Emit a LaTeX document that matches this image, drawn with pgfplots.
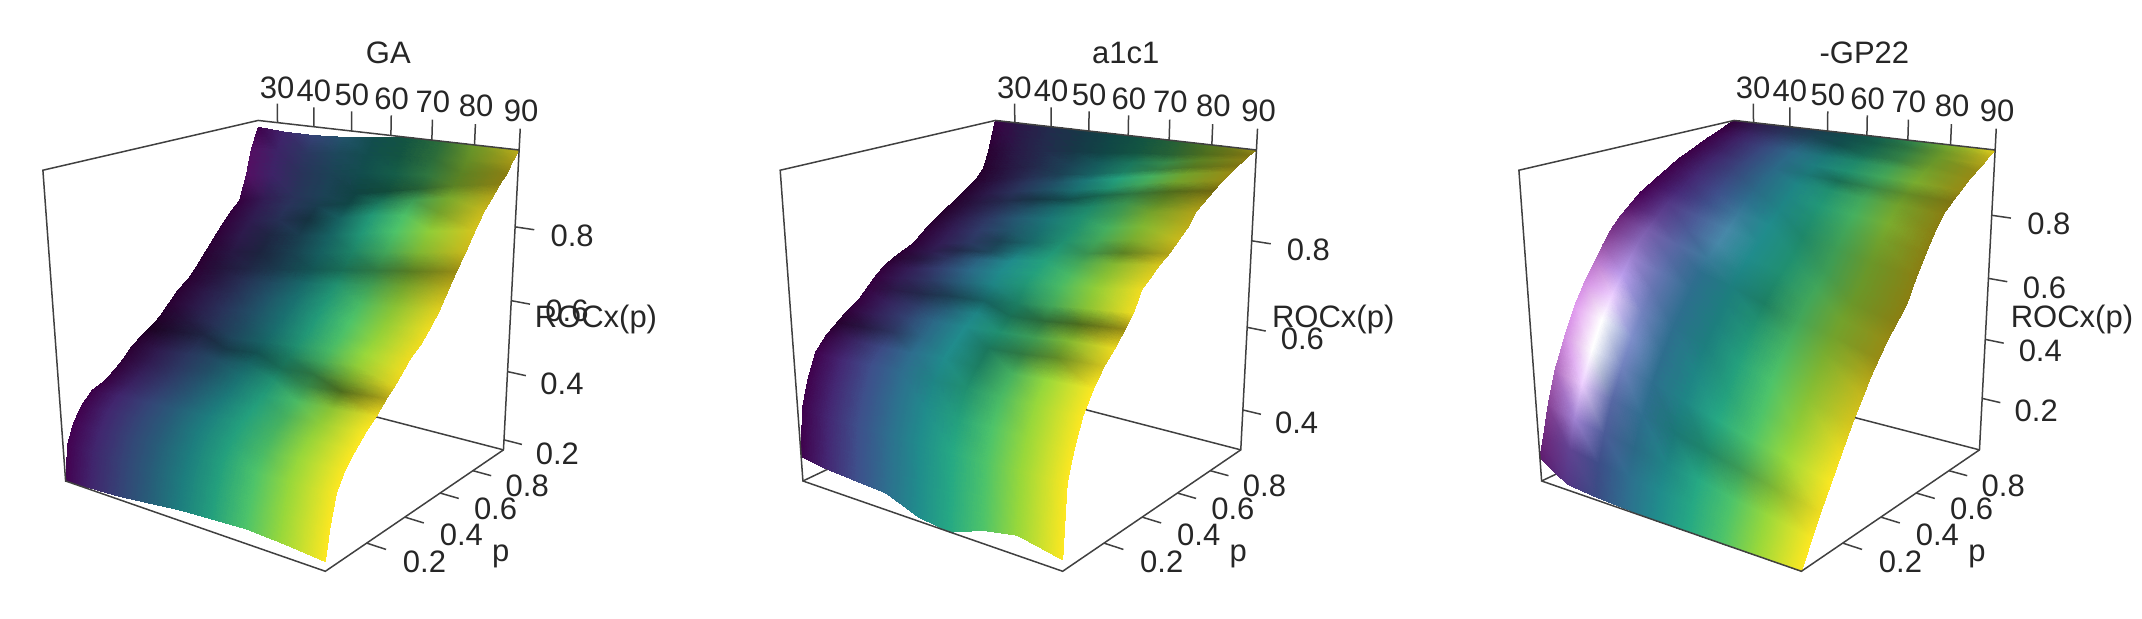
\documentclass[border=0pt]{standalone}
\usepackage{fontspec}
\setmainfont{Liberation Sans}
\usepackage{pgfplots}
\usepackage{pgfplotstable}
\pgfplotsset{compat=1.18}
\pgfplotstableread{
age p z s
24.5 0 .17 .95
32 0 .175 .9
40 0 .18 .85
48 0 .19 .85
56 0 .2 .9
64 0 .205 .95
72 0 .21 1
80 0 .205 1
90 0 .195 1
24.5 .02 .27 .95
32 .02 .27 .9
40 .02 .27 .85
48 .02 .27 .85
56 .02 .27 .9
64 .02 .27 .95
72 .02 .27 1
80 .02 .27 1
90 .02 .27 1
24.5 .05 .32 .95
32 .05 .32 .92
40 .05 .33 .85
48 .05 .33 .85
56 .05 .33 .9
64 .05 .34 .95
72 .05 .34 1
80 .05 .345 1
90 .05 .35 1
24.5 .09 .36 .9
32 .09 .365 .92
40 .09 .37 .85
48 .09 .37 .85
56 .09 .38 .9
64 .09 .38 .95
72 .09 .385 .95
80 .09 .39 1
90 .09 .395 1
24.5 .14 .39 .85
32 .14 .395 .9
40 .14 .4 .85
48 .14 .405 .85
56 .14 .41 .9
64 .14 .415 .95
72 .14 .42 .92
80 .14 .425 .98
90 .14 .43 1
24.5 .19 .4 .8
32 .19 .41 .82
40 .19 .415 .8
48 .19 .42 .82
56 .19 .43 .88
64 .19 .435 .95
72 .19 .445 .9
80 .19 .45 .95
90 .19 .46 1
24.5 .24 .42 .72
32 .24 .43 .75
40 .24 .435 .75
48 .24 .445 .78
56 .24 .45 .85
64 .24 .46 .92
72 .24 .47 .95
80 .24 .475 .9
90 .24 .485 .95
24.5 .29 .445 .65
32 .29 .45 .68
40 .29 .46 .7
48 .29 .47 .72
56 .29 .48 .8
64 .29 .49 .85
72 .29 .495 .7
80 .29 .505 .5
90 .29 .515 .7
24.5 .33 .47 .6
32 .33 .475 .65
40 .33 .485 .68
48 .33 .49 .7
56 .33 .5 .72
64 .33 .51 .65
72 .33 .515 .6
80 .33 .525 .75
90 .33 .535 .9
24.5 .37 .485 .55
32 .37 .49 .55
40 .37 .5 .6
48 .37 .51 .52
56 .37 .52 .58
64 .37 .53 .72
72 .37 .54 .85
80 .37 .55 .95
90 .37 .56 .95
24.5 .41 .5 .4
32 .41 .51 .42
40 .41 .52 .48
48 .41 .53 .65
56 .41 .54 .72
64 .41 .55 .85
72 .41 .56 .95
80 .41 .57 1
90 .41 .585 .95
24.5 .46 .52 .5
32 .46 .53 .5
40 .46 .54 .62
48 .46 .55 .68
56 .46 .56 .78
64 .46 .57 .9
72 .46 .58 .98
80 .46 .59 .98
90 .46 .605 .95
24.5 .51 .55 .6
32 .51 .56 .6
40 .51 .57 .65
48 .51 .58 .72
56 .51 .59 .8
64 .51 .6 .92
72 .51 .61 1
80 .51 .62 .95
90 .51 .635 .95
24.5 .56 .58 .6
32 .56 .59 .6
40 .56 .6 .62
48 .56 .61 .72
56 .56 .62 .8
64 .56 .635 .9
72 .56 .645 .95
80 .56 .655 .9
90 .56 .67 .9
24.5 .61 .6 .6
32 .61 .61 .55
40 .61 .63 .6
48 .61 .64 .68
56 .61 .655 .75
64 .61 .67 .85
72 .61 .685 .8
80 .61 .7 .75
90 .61 .715 .75
24.5 .65 .625 .6
32 .65 .64 .5
40 .65 .655 .5
48 .65 .67 .55
56 .65 .685 .6
64 .65 .7 .65
72 .65 .715 .62
80 .65 .73 .58
90 .65 .75 .6
24.5 .7 .66 .6
32 .7 .675 .55
40 .7 .69 .45
48 .7 .705 .55
56 .7 .72 .68
64 .7 .74 .78
72 .7 .755 .85
80 .7 .77 .85
90 .7 .79 .8
24.5 .75 .695 .65
32 .75 .71 .62
40 .75 .73 .48
48 .75 .745 .55
56 .75 .76 .7
64 .75 .78 .9
72 .75 .8 1
80 .75 .815 .95
90 .75 .835 .85
24.5 .8 .73 .7
32 .8 .745 .65
40 .8 .765 .6
48 .8 .78 .45
56 .8 .8 .68
64 .8 .82 .9
72 .8 .835 .98
80 .8 .855 .75
90 .8 .875 .8
24.5 .85 .76 .72
32 .85 .775 .68
40 .85 .795 .65
48 .85 .81 .55
56 .85 .83 .5
64 .85 .85 .68
72 .85 .865 .8
80 .85 .885 .78
90 .85 .905 .7
24.5 .89 .78 .75
32 .89 .8 .7
40 .89 .815 .65
48 .89 .835 .6
56 .89 .85 .48
64 .89 .87 .45
72 .89 .89 .5
80 .89 .91 .6
90 .89 .93 .55
24.5 .93 .85 1.05
32 .93 .86 .85
40 .93 .875 .65
48 .93 .885 .6
56 .93 .9 .55
64 .93 .91 .55
72 .93 .92 .6
80 .93 .935 .6
90 .93 .95 .55
24.5 .96 .92 1.05
32 .96 .925 .85
40 .96 .93 .7
48 .96 .94 .65
56 .96 .945 .55
64 .96 .955 .5
72 .96 .96 .55
80 .96 .965 .65
90 .96 .975 .65
24.5 1 .98 .9
32 1 .975 .9
40 1 .975 .85
48 1 .98 .75
56 1 .99 .55
64 1 1 .5
72 1 1 .55
80 1 1 .7
90 1 1 .75
}\tabA
\pgfplotstableread{
age p z s
24.5 0 .36 .9
32 0 .35 .95
40 0 .345 1
48 0 .34 1
56 0 .31 1
64 0 .3 1
72 0 .33 1
80 0 .345 1
90 0 .325 1
24.5 .02 .47 .9
32 .02 .47 .95
40 .02 .47 1
48 .02 .47 1
56 .02 .475 1
64 .02 .475 1
72 .02 .475 1
80 .02 .48 1
90 .02 .48 1
24.5 .05 .53 .9
32 .05 .53 .95
40 .05 .53 1
48 .05 .535 1
56 .05 .535 1
64 .05 .535 .95
72 .05 .54 1
80 .05 .54 1
90 .05 .54 1
24.5 .09 .585 .9
32 .09 .585 .95
40 .09 .59 1
48 .09 .59 1
56 .09 .59 .95
64 .09 .595 .85
72 .09 .595 .95
80 .09 .6 1
90 .09 .6 1
24.5 .14 .615 .75
32 .14 .62 .8
40 .14 .62 .95
48 .14 .625 1
56 .14 .63 1
64 .14 .63 .75
72 .14 .635 .9
80 .14 .64 1
90 .14 .645 1
24.5 .19 .635 .55
32 .19 .64 .55
40 .19 .645 .7
48 .19 .65 .95
56 .19 .655 1
64 .19 .66 .7
72 .19 .665 .62
80 .19 .675 .65
90 .19 .68 .85
24.5 .24 .655 .7
32 .24 .66 .72
40 .24 .67 .8
48 .24 .675 .95
56 .24 .68 1
64 .24 .685 .85
72 .24 .69 .8
80 .24 .7 .85
90 .24 .705 .95
24.5 .29 .67 .75
32 .29 .68 .75
40 .29 .685 .75
48 .29 .69 .85
56 .29 .7 .95
64 .29 .71 .65
72 .29 .715 .55
80 .29 .725 .5
90 .29 .735 .6
24.5 .33 .69 .75
32 .33 .7 .6
40 .33 .705 .55
48 .33 .715 .6
56 .33 .72 .7
64 .33 .73 .75
72 .33 .74 .85
80 .33 .75 .9
90 .33 .76 .95
24.5 .37 .71 .75
32 .37 .72 .7
40 .37 .73 .72
48 .37 .74 .85
56 .37 .75 .95
64 .37 .765 .9
72 .37 .775 .95
80 .37 .785 .95
90 .37 .8 .95
24.5 .41 .727 .7
32 .41 .735 .72
40 .41 .75 .8
48 .41 .76 .95
56 .41 .77 1
64 .41 .78 .95
72 .41 .79 .95
80 .41 .8 .9
90 .41 .815 .9
24.5 .46 .74 .6
32 .46 .75 .55
40 .46 .765 .7
48 .46 .775 .9
56 .46 .785 1
64 .46 .8 .95
72 .46 .81 .85
80 .46 .82 .85
90 .46 .835 .85
24.5 .51 .75 .65
32 .51 .76 .65
40 .51 .775 .55
48 .51 .785 .65
56 .51 .8 .85
64 .51 .81 .9
72 .51 .82 .75
80 .51 .835 .6
90 .51 .85 .7
24.5 .56 .76 .65
32 .56 .77 .7
40 .56 .785 .7
48 .56 .8 .6
56 .56 .81 .75
64 .56 .825 .85
72 .56 .84 .85
80 .56 .855 .8
90 .56 .87 .8
24.5 .61 .78 .65
32 .61 .79 .7
40 .61 .805 .75
48 .61 .82 .75
56 .61 .83 .8
64 .61 .845 .85
72 .61 .86 .9
80 .61 .875 .85
90 .61 .89 .75
24.5 .65 .795 .6
32 .65 .81 .65
40 .65 .825 .72
48 .65 .84 .8
56 .65 .85 .85
64 .65 .865 .85
72 .65 .88 .8
80 .65 .9 .75
90 .65 .915 .7
24.5 .7 .81 .55
32 .7 .825 .6
40 .7 .84 .65
48 .7 .855 .7
56 .7 .87 .75
64 .7 .88 .8
72 .7 .9 .75
80 .7 .91 .65
90 .7 .93 .6
24.5 .75 .825 .55
32 .75 .84 .55
40 .75 .855 .55
48 .75 .87 .5
56 .75 .88 .55
64 .75 .9 .6
72 .75 .915 .6
80 .75 .93 .5
90 .75 .945 .45
24.5 .8 .84 .55
32 .8 .855 .6
40 .8 .87 .65
48 .8 .885 .7
56 .8 .895 .8
64 .8 .91 .85
72 .8 .93 .85
80 .8 .945 .75
90 .8 .96 .6
24.5 .85 .855 .55
32 .85 .87 .58
40 .85 .885 .65
48 .85 .895 .72
56 .85 .91 .85
64 .85 .925 .95
72 .85 .94 .9
80 .85 .955 .75
90 .85 .972 .6
24.5 .89 .868 .55
32 .89 .88 .55
40 .89 .895 .6
48 .89 .91 .6
56 .89 .92 .7
64 .89 .935 .75
72 .89 .95 .65
80 .89 .965 .55
90 .89 .98 .5
24.5 .93 .89 .55
32 .93 .9 .55
40 .93 .915 .55
48 .93 .925 .6
56 .93 .94 .65
64 .93 .95 .7
72 .93 .96 .7
80 .93 .975 .6
90 .93 .988 .55
24.5 .96 .93 .6
32 .96 .94 .58
40 .96 .945 .55
48 .96 .955 .5
56 .96 .96 .5
64 .96 .97 .5
72 .96 .975 .5
80 .96 .985 .5
90 .96 .994 .5
24.5 1 1 .8
32 1 1 .6
40 1 1 .55
48 1 1 .5
56 1 1 .5
64 1 1 .5
72 1 1 .5
80 1 1 .55
90 1 1 .6
}\tabB
\pgfplotstableread{
age p z s
24.5 0 .1 1.1
32 0 .04 1.05
40 0 .03 .95
48 0 .025 1
56 0 .02 1
64 0 .02 1
72 0 .02 1
80 0 .02 1
90 0 .02 1
24.5 .02 .16 1.15
32 .02 .15 1.1
40 .02 .135 .98
48 .02 .12 1
56 .02 .105 1
64 .02 .095 1
72 .02 .08 1
80 .02 .065 1
90 .02 .05 1
24.5 .05 .26 1.25
32 .05 .24 1.35
40 .05 .22 1.05
48 .05 .2 .95
56 .05 .18 .95
64 .05 .165 1
72 .05 .14 1
80 .05 .125 1
90 .05 .1 1
24.5 .09 .365 1.4
32 .09 .34 1.65
40 .09 .315 1.1
48 .09 .29 1
56 .09 .265 .85
64 .09 .24 .8
72 .09 .215 .8
80 .09 .19 .85
90 .09 .16 .95
24.5 .14 .46 1.55
32 .14 .435 1.85
40 .14 .405 1.2
48 .14 .38 1
56 .14 .35 .95
64 .14 .32 1
72 .14 .29 1
80 .14 .265 1
90 .14 .23 1
24.5 .19 .545 1.6
32 .19 .52 1.85
40 .19 .485 1.25
48 .19 .455 1
56 .19 .425 .95
64 .19 .39 .95
72 .19 .355 1
80 .19 .33 .95
90 .19 .3 .95
24.5 .24 .61 1.55
32 .24 .585 1.65
40 .24 .55 1.2
48 .24 .525 1
56 .24 .495 .9
64 .24 .465 .95
72 .24 .435 1
80 .24 .405 .9
90 .24 .37 .85
24.5 .29 .665 1.45
32 .29 .64 1.45
40 .29 .61 1.15
48 .29 .58 1
56 .29 .55 .9
64 .29 .525 .9
72 .29 .495 .95
80 .29 .465 .85
90 .29 .43 .8
24.5 .33 .71 1.3
32 .33 .685 1.35
40 .33 .655 1.15
48 .33 .625 1
56 .33 .6 .9
64 .33 .57 .85
72 .33 .54 .9
80 .33 .515 .8
90 .33 .48 .7
24.5 .37 .75 1.2
32 .37 .725 1.25
40 .37 .695 1.1
48 .37 .665 1
56 .37 .64 .9
64 .37 .61 .75
72 .37 .58 .85
80 .37 .555 .75
90 .37 .52 .6
24.5 .41 .78 1.15
32 .41 .755 1.2
40 .41 .725 1.1
48 .41 .7 1.05
56 .41 .675 .95
64 .41 .65 .8
72 .41 .62 .85
80 .41 .595 .75
90 .41 .56 .6
24.5 .46 .81 1.05
32 .46 .785 1.1
40 .46 .76 1.05
48 .46 .735 1.1
56 .46 .71 1
64 .46 .685 .85
72 .46 .655 .85
80 .46 .63 .7
90 .46 .6 .55
24.5 .51 .84 1
32 .51 .82 1.05
40 .51 .795 1.05
48 .51 .77 1.1
56 .51 .745 1
64 .51 .72 .85
72 .51 .69 .8
80 .51 .67 .7
90 .51 .64 .55
24.5 .56 .86 .95
32 .56 .845 1
40 .56 .825 1
48 .56 .805 1.05
56 .56 .79 1
64 .56 .77 .8
72 .56 .75 .8
80 .56 .73 .7
90 .56 .71 .55
24.5 .61 .88 .9
32 .61 .865 .95
40 .61 .85 1
48 .61 .84 1
56 .61 .825 .95
64 .61 .815 .85
72 .61 .8 .85
80 .61 .785 .75
90 .61 .77 .55
24.5 .65 .895 .9
32 .65 .885 .95
40 .65 .875 .95
48 .65 .865 .95
56 .65 .855 .95
64 .65 .845 .9
72 .65 .835 .9
80 .65 .825 .8
90 .65 .815 .55
24.5 .7 .916 .85
32 .7 .91 .9
40 .7 .9 .9
48 .7 .895 .95
56 .7 .89 .95
64 .7 .885 .85
72 .7 .877 .85
80 .7 .87 .75
90 .7 .863 .55
24.5 .75 .93 .85
32 .75 .925 .9
40 .75 .92 .9
48 .75 .915 .95
56 .75 .91 .85
64 .75 .905 .65
72 .75 .9 .7
80 .75 .895 .65
90 .75 .89 .5
24.5 .8 .945 .85
32 .8 .94 .85
40 .8 .938 .9
48 .8 .935 .95
56 .8 .93 .9
64 .8 .927 .85
72 .8 .923 .85
80 .8 .92 .8
90 .8 .915 .6
24.5 .85 .96 .85
32 .85 .958 .85
40 .85 .955 .9
48 .85 .953 .95
56 .85 .95 .85
64 .85 .948 .8
72 .85 .945 .8
80 .85 .943 .75
90 .85 .94 .6
24.5 .89 .97 .85
32 .89 .968 .85
40 .89 .966 .85
48 .89 .964 .85
56 .89 .963 .7
64 .89 .961 .65
72 .89 .959 .65
80 .89 .957 .7
90 .89 .955 .6
24.5 .93 .98 .8
32 .93 .979 .8
40 .93 .978 .75
48 .93 .976 .7
56 .93 .975 .55
64 .93 .974 .6
72 .93 .973 .65
80 .93 .972 .7
90 .93 .97 .7
24.5 .96 .99 .7
32 .96 .989 .7
40 .96 .989 .65
48 .96 .988 .6
56 .96 .988 .55
64 .96 .987 .55
72 .96 .986 .6
80 .96 .986 .7
90 .96 .985 .75
24.5 1 1 .7
32 1 1 .65
40 1 1 .6
48 1 1 .55
56 1 1 .55
64 1 1 .6
72 1 1 .7
80 1 1 .8
90 1 1 .9
}\tabC
\pgfplotstableread{
age p w
24.5 1 1
24.5 0 1
24.5 0 0
90 0 0
90 1 0
90 1 1
24.5 1 1
}\boxfront
\pgfplotstableread{
age p w
24.5 0 0
24.5 1 0
90 1 0
}\boxback
\pgfplotstableread{
t d
0 0
1 0
}\tickt
\tikzset{declare function={
 den(\u,\v,\w)=1-.1373*\u+.1792*\v-.082*\w;
 px(\u,\v,\w)=(49+160.6*\u+182.1*\v-19.6*\w)/den(\u,\v,\w);
 py(\u,\v,\w)=(432+10.6*\u-21.6*\v-291.5*\w)/den(\u,\v,\w);
 ua(\a)=(\a-24.5)/65.5;
 wz(\z)=(\z-\zm)/(1-\zm);
 vr(\t)=.2777+\t*(.1051+\t*(-.3309+\t*(-4.6342+\t*(6.2283+\t*(4.7764+\t*(-5.4355))))));
 vg(\t)=.0054+\t*(1.4046+\t*(.2148+\t*(-5.7991+\t*(14.1799+\t*(-13.7451+\t*(4.6459))))));
 vb(\t)=.3341+\t*(1.3846+\t*(.0951+\t*(-19.3324+\t*(56.6906+\t*(-65.3530+\t*(26.3124))))));
 col(\c,\s)=min(1,max(0,\c*min(\s,1)+max(\s-1,0)));
}}
\tikzset{tk/.style={black!75,line width=.75pt},lb/.style={font=\fontsize{15.5}{18}\selectfont,text=black!85,inner sep=0pt}}
\newcommand\panel[5]{%
\def\zm{#4}%
\begin{axis}[at={(#1*0.5pt,0)},anchor=south west,scale only axis,width=334.8pt,height=309pt,
 xmin=0,xmax=500,ymin=.27,ymax=555,y dir=reverse,hide axis,clip=false]
\addplot[tk] table[x expr={px(ua(\thisrow{age}),\thisrow{p},\thisrow{w})},y expr={py(ua(\thisrow{age}),\thisrow{p},\thisrow{w})}]{\boxback};
\addplot[surf,shader=interp,mesh/rows=24,mesh/cols=9,mesh/color input=explicit mathparse,
 point meta={symbolic={{col(vr(ua(\thisrow{age})),\thisrow{s})},{col(vg(ua(\thisrow{age})),\thisrow{s})},{col(vb(ua(\thisrow{age})),\thisrow{s})}}}]
 table[x expr={px(ua(\thisrow{age}),\thisrow{p},wz(\thisrow{z}))},y expr={py(ua(\thisrow{age}),\thisrow{p},wz(\thisrow{z}))}]{#3};
\addplot[tk] table[x expr={px(ua(\thisrow{age}),\thisrow{p},\thisrow{w})},y expr={py(ua(\thisrow{age}),\thisrow{p},\thisrow{w})}]{\boxfront};
\pgfplotsinvokeforeach{30,40,50,60,70,80,90}{
 \addplot[tk] table[x expr={px(ua(##1),1,1+.065*\thisrow{t})},y expr={py(ua(##1),1,1+.065*\thisrow{t})}]{\tickt};
 \node[lb] at (axis cs:{px(ua(##1),1,1.12)},{py(ua(##1),1,1.12)}) {##1};
}
\pgfplotsinvokeforeach{0.2,0.4,0.6,0.8}{
 \addplot[tk] table[x expr={px(1+.065*\thisrow{t},##1,0)},y expr={py(1+.065*\thisrow{t},##1,0)}]{\tickt};
 \node[lb] at (axis cs:{px(1.19,##1,0)},{py(1.19,##1,0)}) {##1};
}
\pgfplotsinvokeforeach{#5}{
 \addplot[tk] table[x expr={px(1+.065*\thisrow{t},1,wz(##1))},y expr={py(1+.065*\thisrow{t},1,wz(##1))}]{\tickt};
 \node[lb] at (axis cs:{px(1.19,1,wz(##1))},{py(1.19,1,wz(##1))}) {##1};
}
\node[lb] at (axis cs:290,48) {#2};
\node[lb] at (axis cs:445,287) {ROCx(p)};
\node[lb] at (axis cs:374,500) {p};
\end{axis}}
\begin{document}
\begin{tikzpicture}
\useasboundingbox (0,0) rectangle (1071pt,309pt);
\panel{0}{GA}{\tabA}{.17}{0.2,0.4,0.6,0.8}
\panel{737.3}{a1c1}{\tabB}{.3}{0.4,0.6,0.8}
\panel{1476}{-GP22}{\tabC}{.02}{0.2,0.4,0.6,0.8}
\end{tikzpicture}
\end{document}
